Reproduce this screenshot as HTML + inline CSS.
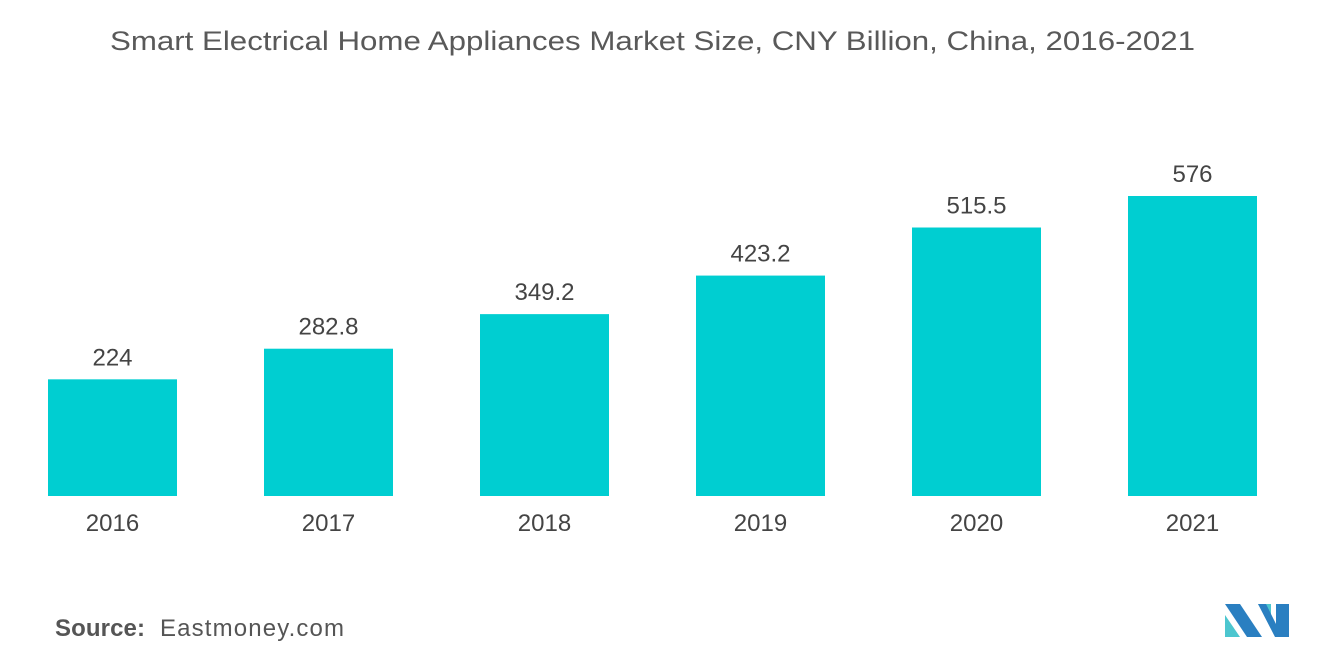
<!DOCTYPE html>
<html><head><meta charset="utf-8"><style>
body{margin:0;width:1320px;height:665px;background:#fff;font-family:"Liberation Sans",sans-serif;overflow:hidden}
</style></head><body>
<svg width="1320" height="665">
<text x="110" y="50" font-size="27" fill="#595959" textLength="1085" lengthAdjust="spacingAndGlyphs">Smart Electrical Home Appliances Market Size, CNY Billion, China, 2016-2021</text>
<g id="bars"></g>
<text x="55" y="636" font-size="24" fill="#555" font-weight="bold" textLength="90">Source:</text>
<text x="160" y="636" font-size="24" fill="#555" textLength="184">Eastmoney.com</text>
<g>
<polygon points="1225,604 1240,604 1262,637 1247,637" fill="#2a7fc1"/>
<polygon points="1225,615 1225,637 1240,637" fill="#4cc6cf"/>
<polygon points="1258,604 1271,604 1271,624" fill="#4cc6cf"/>
<polygon points="1258,604 1275,637 1289,637 1289,604 1276,604 1276,624 1266,604" fill="#2a7fc1"/>
</g>
</svg>
<script>
const categories=["2016","2017","2018","2019","2020","2021"];
const values=[224,282.8,349.2,423.2,515.5,576];
const labels=["224","282.8","349.2","423.2","515.5","576"];
const base=496,scale=300/576,x0=48,step=216,bw=129;
const y=v=>base-v*scale, x=i=>x0+i*step;
const g=document.getElementById('bars'),NS='http://www.w3.org/2000/svg';
values.forEach((v,i)=>{
 const r=document.createElementNS(NS,'rect');
 r.setAttribute('x',x(i));r.setAttribute('y',y(v));r.setAttribute('width',bw);r.setAttribute('height',base-y(v));r.setAttribute('fill','#00ced1');
 
 
 g.appendChild(r);
 const t=document.createElementNS(NS,'text');
 t.setAttribute('x',x(i)+bw/2);t.setAttribute('y',y(v)-14);t.setAttribute('text-anchor','middle');t.setAttribute('font-size','24');t.setAttribute('fill','#444');
 t.textContent=labels[i];
 
 
 g.appendChild(t);
 const c=document.createElementNS(NS,'text');
 c.setAttribute('x',x(i)+bw/2);c.setAttribute('y',531);c.setAttribute('text-anchor','middle');c.setAttribute('font-size','24');c.setAttribute('fill','#444');
 c.textContent=categories[i];
 
 
 g.appendChild(c);
});
</script>
</body></html>
